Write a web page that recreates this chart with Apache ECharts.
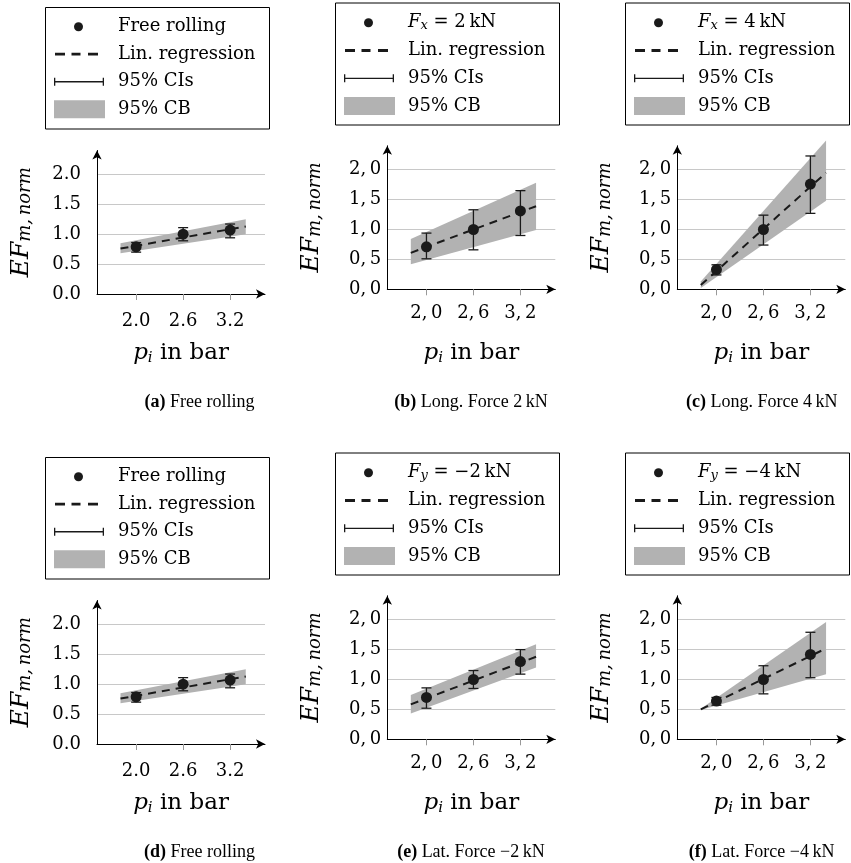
<!DOCTYPE html>
<html>
<head>
<meta charset="utf-8">
<script src="https://cdn.jsdelivr.net/npm/echarts@6/dist/echarts.min.js"></script>
<style>
  html, body { margin: 0; padding: 0; background: #fff; }
  #chart { width: 851px; height: 863px; }
</style>
</head>
<body>
<div id="chart"></div>
<script>
// tyre pressures of the measurements and range of the regression
const pressures = [2.0, 2.6, 3.2]
const fitX = [1.8, 3.4]

// (a) and (d) free rolling
const freeMean = [0.79, 1.0, 1.07]
const freeCiLow = [0.7, 0.89, 0.94]
const freeCiHigh = [0.86, 1.11, 1.17]
const freeFit = [0.76, 1.13]
const freeBandLow = [0.68, 1.0]
const freeBandHigh = [0.85, 1.25]

// (b) Fx = 2 kN
const fx2Mean = [0.71, 1.0, 1.31]
const fx2CiLow = [0.51, 0.66, 0.9]
const fx2CiHigh = [0.94, 1.33, 1.65]
const fx2Fit = [0.61, 1.39]
const fx2BandLow = [0.42, 0.99]
const fx2BandHigh = [0.84, 1.78]

// (c) Fx = 4 kN
const fx4Mean = [0.33, 1.0, 1.76]
const fx4CiLow = [0.24, 0.74, 1.27]
const fx4CiHigh = [0.41, 1.24, 2.23]
const fx4Fit = [0.07, 1.95]
const fx4BandLow = [0.02, 1.48]
const fx4BandHigh = [0.13, 2.49]

// (e) Fy = -2 kN
const fy2Mean = [0.7, 1.0, 1.3]
const fy2CiLow = [0.52, 0.85, 1.09]
const fy2CiHigh = [0.86, 1.15, 1.5]
const fy2Fit = [0.585, 1.38]
const fy2BandLow = [0.43, 1.2]
const fy2BandHigh = [0.74, 1.59]

// (f) Fy = -4 kN
const fy4Mean = [0.64, 1.0, 1.42]
const fy4CiLow = [0.57, 0.76, 1.03]
const fy4CiHigh = [0.7, 1.23, 1.79]
const fy4Fit = [0.5, 1.52]
const fy4BandLow = [0.49, 1.09]
const fy4BandHigh = [0.51, 1.96]

const yTicks = [0, 0.5, 1, 1.5, 2]

const panels = [
  { name: 'Free rolling', label: 'Free rolling', caption: '{b|(a)} Free rolling', comma: false,
    mean: freeMean, lo: freeCiLow, hi: freeCiHigh, fit: freeFit, bandLo: freeBandLow, bandHi: freeBandHigh },
  { name: 'Fx = 2 kN', label: '{it|F}{sub|x} = 2\u2009kN', caption: '{b|(b)} Long. Force 2\u2009kN', comma: true,
    mean: fx2Mean, lo: fx2CiLow, hi: fx2CiHigh, fit: fx2Fit, bandLo: fx2BandLow, bandHi: fx2BandHigh },
  { name: 'Fx = 4 kN', label: '{it|F}{sub|x} = 4\u2009kN', caption: '{b|(c)} Long. Force 4\u2009kN', comma: true,
    mean: fx4Mean, lo: fx4CiLow, hi: fx4CiHigh, fit: fx4Fit, bandLo: fx4BandLow, bandHi: fx4BandHigh },
  { name: 'Free rolling', label: 'Free rolling', caption: '{b|(d)} Free rolling', comma: false,
    mean: freeMean, lo: freeCiLow, hi: freeCiHigh, fit: freeFit, bandLo: freeBandLow, bandHi: freeBandHigh },
  { name: 'Fy = -2 kN', label: '{it|F}{sub|y} = \u22122\u2009kN', caption: '{b|(e)} Lat. Force \u22122\u2009kN', comma: true,
    mean: fy2Mean, lo: fy2CiLow, hi: fy2CiHigh, fit: fy2Fit, bandLo: fy2BandLow, bandHi: fy2BandHigh },
  { name: 'Fy = -4 kN', label: '{it|F}{sub|y} = \u22124\u2009kN', caption: '{b|(f)} Lat. Force \u22124\u2009kN', comma: true,
    mean: fy4Mean, lo: fy4CiLow, hi: fy4CiHigh, fit: fy4Fit, bandLo: fy4BandLow, bandHi: fy4BandHigh }
]

// layout
const SERIF = "'DejaVu Serif', serif"
const CAPTION = "'Liberation Serif', serif"
const DARK = '#1a1a1a'
const BAND = '#b2b2b2'
const GRIDLINE = '#c8c8c8'
const axisLeft = [97, 387.3, 677.3]
const zeroY = [294, 289.3, 289.3]
const rowShift = 450
const plotW = 168
const plotH = 143.5
const xMin = 1.5
const xMax = 1.5 + plotW / 78.3
const boxLeft = [45.5, 335.5, 625.5]
const boxTop = [7.5, 3, 3]
const boxH = [121.5, 122, 122]
const rowGap = [27.5, 27.8, 27.8]
const firstRow = [19.2, 19.7, 19.7]
const captionX = [199.5, 471, 761.7]
const captionY = 402.7

// legend icons, all drawn in a 59 x 18 box
const DOT_ICON = 'path://M0,0M59,18M29,9A4.5,4.5,0,1,1,20,9A4.5,4.5,0,1,1,29,9Z'
const DASH_ICON = 'path://M0,0M59,18M1,7.6h10v2.8h-10zM17.5,7.6h9v2.8h-9zM34,7.6h10v2.8h-10z'
const CI_ICON = 'path://M0,0M59,18M0,5h1.3v8h-1.3zM0,8.4h50v1.3h-50zM48.7,5h1.3v8h-1.3z'
const BAND_ICON = 'path://M0,0M59,18M0,0h51v18h-51z'

const fmtNum = (comma) => (v) => comma ? v.toFixed(1).replace('.', ',\u2009') : v.toFixed(1)

const nameRich = (size, subSize) => ({
  it: { fontFamily: SERIF, fontStyle: 'italic', fontSize: size, lineHeight: 26, color: '#000' },
  sub: { fontFamily: SERIF, fontStyle: 'italic', fontSize: subSize, lineHeight: 14, verticalAlign: 'bottom', color: '#000' }
})

const chart = echarts.init(document.getElementById('chart'), null, { renderer: 'canvas' })

const grids = []
const xAxes = []
const yAxes = []
const series = []
const legends = []
const graphics = []
const legendText = {}

panels.forEach((p, i) => {
  const col = i % 3
  const row = Math.floor(i / 3)
  const zero = zeroY[col] + row * rowShift
  const fmt = fmtNum(p.comma)
  legendText[p.name] = p.label

  grids.push({ left: axisLeft[col], top: zero - plotH, width: plotW, height: plotH, outerBoundsMode: 'none' })

  xAxes.push({
    gridIndex: i,
    type: 'value',
    min: xMin,
    max: xMax,
    name: '{it|p}{sub|i} in bar',
    nameLocation: 'middle',
    nameGap: col === 0 ? 46 : 50.7,
    nameMoveOverlap: false,
    nameTextStyle: { fontFamily: SERIF, fontSize: 23, lineHeight: 26, color: '#000', rich: nameRich(23, 15) },
    axisLine: { onZero: false, symbol: ['none', 'arrow'], symbolSize: [7, 9], lineStyle: { color: '#000', width: 1 } },
    axisTick: { show: true, length: 6, customValues: pressures, lineStyle: { color: '#999', width: 1 } },
    axisLabel: { customValues: pressures, formatter: fmt, margin: col === 0 ? 18 : 15, fontFamily: SERIF, fontSize: 18, color: '#000' },
    splitLine: { show: false }
  })

  yAxes.push({
    gridIndex: i,
    type: 'value',
    min: 0,
    max: 2.4,
    interval: 0.5,
    name: '{it|EF}{sub|m,\u2009norm}',
    nameLocation: 'middle',
    nameRotate: 90,
    nameGap: 63,
    nameMoveOverlap: false,
    nameTextStyle: { fontFamily: SERIF, fontSize: 25, lineHeight: 28, color: '#000', rich: nameRich(25, 18) },
    axisLine: { onZero: false, symbol: ['none', 'arrow'], symbolSize: [7, 9], lineStyle: { color: '#000', width: 1 } },
    axisTick: { show: false },
    axisLabel: { customValues: yTicks, formatter: fmt, margin: col === 0 ? 16 : 6, fontFamily: SERIF, fontSize: 18, color: '#000' },
    splitLine: {
      show: true,
      showMaxLine: false,
      lineStyle: { color: [GRIDLINE, GRIDLINE, GRIDLINE, GRIDLINE, GRIDLINE, 'transparent'], width: 1 }
    }
  })

  // 95% confidence band as a polygon between the two edges
  series.push({
    type: 'custom',
    name: '95% CB',
    xAxisIndex: i,
    yAxisIndex: i,
    z: 1,
    itemStyle: { color: BAND },
    data: fitX.map((x, k) => [x, p.bandLo[k], p.bandHi[k]]),
    renderItem: (params, api) => {
      if (params.dataIndex !== 0) return
      const top = []
      const bottom = []
      for (let k = 0; k < params.dataInsideLength; k++) {
        top.push(api.coord([api.value(0, k), api.value(2, k)]))
        bottom.unshift(api.coord([api.value(0, k), api.value(1, k)]))
      }
      return { type: 'polygon', shape: { points: top.concat(bottom) }, style: { fill: BAND } }
    }
  })

  series.push({
    type: 'line',
    name: 'Lin. regression',
    xAxisIndex: i,
    yAxisIndex: i,
    z: 3,
    symbol: 'none',
    silent: true,
    itemStyle: { color: DARK },
    lineStyle: { color: DARK, width: 2, type: [8, 6] },
    data: fitX.map((x, k) => [x, p.fit[k]])
  })

  // 95% confidence intervals of the means
  series.push({
    type: 'custom',
    name: '95% CIs',
    xAxisIndex: i,
    yAxisIndex: i,
    z: 4,
    itemStyle: { color: DARK },
    data: pressures.map((x, k) => [x, p.lo[k], p.hi[k]]),
    renderItem: (params, api) => {
      const low = api.coord([api.value(0), api.value(1)])
      const high = api.coord([api.value(0), api.value(2)])
      const style = { stroke: '#1a1a1a', lineWidth: 1.3 }
      return {
        type: 'group',
        children: [
          { type: 'line', shape: { x1: low[0], y1: low[1], x2: high[0], y2: high[1] }, style },
          { type: 'line', shape: { x1: low[0] - 5, y1: low[1], x2: low[0] + 5, y2: low[1] }, style },
          { type: 'line', shape: { x1: high[0] - 5, y1: high[1], x2: high[0] + 5, y2: high[1] }, style }
        ]
      }
    }
  })

  series.push({
    type: 'scatter',
    name: p.name,
    xAxisIndex: i,
    yAxisIndex: i,
    z: 5,
    symbolSize: 11,
    itemStyle: { color: DARK, opacity: 1 },
    data: pressures.map((x, k) => [x, p.mean[k]])
  })

  const bTop = boxTop[col] + row * rowShift
  legends.push({
    orient: 'vertical',
    left: boxLeft[col] + 8.5,
    top: bTop + firstRow[col] - 9,
    padding: 0,
    itemWidth: 59,
    itemHeight: 18,
    itemGap: rowGap[col] - 18,
    selectedMode: false,
    data: [
      { name: p.name, icon: DOT_ICON, itemStyle: { color: DARK, borderWidth: 0, opacity: 1 } },
      { name: 'Lin. regression', icon: DASH_ICON, itemStyle: { color: DARK, borderWidth: 0 } },
      { name: '95% CIs', icon: CI_ICON, itemStyle: { color: DARK, borderWidth: 0 } },
      { name: '95% CB', icon: BAND_ICON, itemStyle: { color: BAND, borderWidth: 0 } }
    ],
    formatter: (n) => legendText[n] || n,
    textStyle: {
      fontFamily: SERIF,
      fontSize: 18,
      lineHeight: 18,
      color: '#000',
      rich: {
        it: { fontFamily: SERIF, fontStyle: 'italic', fontSize: 18, lineHeight: 18, color: '#000' },
        sub: { fontFamily: SERIF, fontStyle: 'italic', fontSize: 13, lineHeight: 10, verticalAlign: 'bottom', color: '#000' }
      }
    }
  })

  graphics.push({
    type: 'rect',
    silent: true,
    shape: { x: boxLeft[col], y: bTop, width: 224, height: boxH[col] },
    style: { fill: 'none', stroke: '#000', lineWidth: 1 }
  })

  graphics.push({
    type: 'text',
    silent: true,
    x: captionX[col],
    y: captionY + row * rowShift,
    style: {
      text: p.caption,
      fontFamily: CAPTION,
      fontSize: 18,
      fill: '#000',
      align: 'center',
      verticalAlign: 'middle',
      rich: { b: { fontFamily: CAPTION, fontSize: 18, fontWeight: 'bold', fill: '#000' } }
    }
  })
})

chart.setOption({
  backgroundColor: '#fff',
  animation: false,
  grid: grids,
  xAxis: xAxes,
  yAxis: yAxes,
  legend: legends,
  graphic: graphics,
  series: series
})
</script>
</body>
</html>
